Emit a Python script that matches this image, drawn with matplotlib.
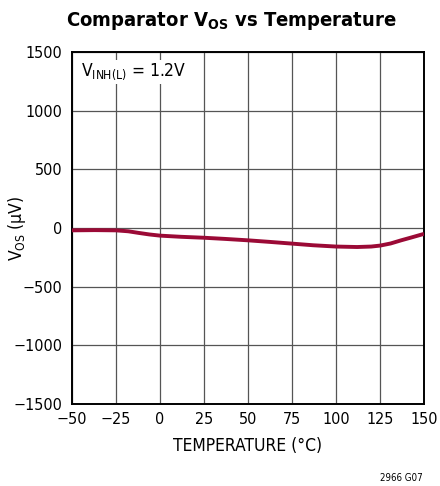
import matplotlib
matplotlib.use("Agg")
import matplotlib.pyplot as plt

plt.rcParams['font.family'] = ['DejaVu Sans']
plt.rcParams['font.stretch'] = 'condensed'
plt.rcParams['mathtext.fontset'] = 'custom'
plt.rcParams['mathtext.rm'] = 'DejaVu Sans:stretch=condensed'
plt.rcParams['mathtext.bf'] = 'DejaVu Sans:bold:stretch=condensed'

# data
temp = [-50, -37, -25, -18, -12, -6, 0, 12, 25, 37, 50, 62, 75, 87, 100, 112, 120, 125, 131, 137, 143, 150]
vos = [-20, -18, -20, -28, -42, -55, -65, -75, -83, -93, -105, -118, -133, -147, -158, -162, -158, -150, -132, -105, -80, -50]

xticks = [-50, -25, 0, 25, 50, 75, 100, 125, 150]
yticks = [-1500, -1000, -500, 0, 500, 1000, 1500]

fig = plt.figure(figsize=(4.4, 4.86), dpi=100)
ax = fig.add_axes([0.1636, 0.1687, 0.8, 0.7243])

ax.plot(temp, vos, color='#9b0a36', lw=2.8, solid_capstyle='butt', solid_joinstyle='round', zorder=3)

ax.set_xlim(-50, 150)
ax.set_ylim(-1500, 1500)
ax.set_xticks(xticks)
ax.set_yticks(yticks)
ax.set_xticklabels([str(t).replace('-', '\u2212') for t in xticks], fontsize=11.5)
ax.set_yticklabels([str(t).replace('-', '\u2212') for t in yticks], fontsize=11.5)
ax.tick_params(axis='x', length=0, pad=6)
ax.tick_params(axis='y', length=0, pad=7)
ax.grid(True, color='#555555', lw=0.9)
for s in ax.spines.values():
    s.set_linewidth(1.4)

ax.set_xlabel('TEMPERATURE (°C)', fontsize=12.5)
ax.xaxis.set_label_coords(0.5, -0.119)
ax.xaxis.label.set_va('center')
ax.set_ylabel(r'V$_{\mathrm{OS}}$ (µV)', fontsize=12.5)
ax.yaxis.set_label_coords(-0.155, 0.5)
ax.yaxis.label.set_va('center')

ax.text(-45, 1330, r'V$_{\mathrm{INH(L)}}$ = 1.2V', fontsize=12.5, va='center', ha='left',
        bbox=dict(facecolor='white', edgecolor='none', pad=1.5), zorder=4)

fig.text(0.527, 0.957, r'Comparator V$_{\mathbf{OS}}$ vs Temperature', fontsize=14.5,
         fontweight='bold', ha='center', va='center')
fig.text(0.961, 0.016, '2966 G07', fontsize=7, ha='right', va='center')

fig.savefig('out.png', dpi=100)
